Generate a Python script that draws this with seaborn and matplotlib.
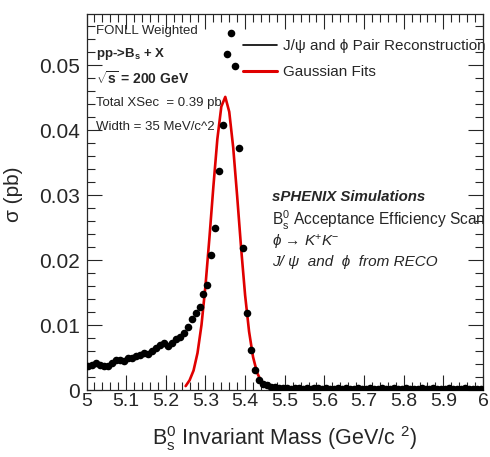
import numpy as np
import pandas as pd
import seaborn as sns
import matplotlib
matplotlib.use('Agg')
import matplotlib.pyplot as plt
from matplotlib.lines import Line2D
from matplotlib.ticker import MultipleLocator, FuncFormatter

# Bin centres of the B_s invariant mass histogram (GeV/c^2)
mass_bins = [round(5.005 + 0.01 * i, 3) for i in range(100)]

# Cross section per bin (pb)
sigma_pb = [
    0.0037, 0.0038, 0.0042, 0.0039, 0.0037, 0.0037, 0.0042, 0.0046, 0.0046, 0.0044,
    0.0049, 0.0050, 0.0052, 0.0054, 0.0057, 0.0055, 0.0060, 0.0064, 0.0069, 0.0073,
    0.0067, 0.0072, 0.0078, 0.0081, 0.0087, 0.0097, 0.0110, 0.0118, 0.0128, 0.0148,
    0.0162, 0.0207, 0.0249, 0.0337, 0.0408, 0.0517, 0.0550, 0.0499, 0.0372, 0.0218,
    0.0118, 0.0062, 0.0031, 0.0015, 0.0010, 0.0007, 0.0005, 0.0004, 0.0003, 0.0003,
    0.0003, 0.0002, 0.0003, 0.0003, 0.0002, 0.0003, 0.0002, 0.0003, 0.0003, 0.0002,
    0.0003, 0.0002, 0.0002, 0.0003, 0.0002, 0.0003, 0.0002, 0.0002, 0.0003, 0.0002,
    0.0002, 0.0003, 0.0002, 0.0002, 0.0003, 0.0002, 0.0002, 0.0003, 0.0002, 0.0002,
    0.0003, 0.0002, 0.0002, 0.0002, 0.0003, 0.0002, 0.0002, 0.0003, 0.0002, 0.0002,
    0.0002, 0.0003, 0.0002, 0.0002, 0.0002, 0.0003, 0.0002, 0.0002, 0.0002, 0.0002,
]

# Gaussian fit curve
fit_mass = [5.25, 5.26, 5.27, 5.28, 5.29, 5.30, 5.31, 5.32, 5.33, 5.34, 5.35,
            5.36, 5.37, 5.38, 5.39, 5.40, 5.41, 5.42, 5.43, 5.44, 5.45, 5.46,
            5.47, 5.48, 5.49]
fit_sigma = [0.0006, 0.0015, 0.0030, 0.0057, 0.0100, 0.0160, 0.0234, 0.0313,
             0.0386, 0.0436, 0.0451, 0.0428, 0.0373, 0.0298, 0.0218, 0.0146,
             0.0090, 0.0051, 0.0027, 0.0014, 0.0007, 0.0004, 0.0002, 0.0001,
             0.0000]

xticks = [5, 5.1, 5.2, 5.3, 5.4, 5.5, 5.6, 5.7, 5.8, 5.9, 6]
yticks = [0, 0.01, 0.02, 0.03, 0.04, 0.05]

hist_df = pd.DataFrame({'mass': mass_bins, 'sigma': sigma_pb})
fit_df = pd.DataFrame({'mass': fit_mass, 'sigma': fit_sigma})

sns.set_style('ticks')
plt.rcParams['font.family'] = ['Liberation Sans', 'DejaVu Sans']
plt.rcParams['mathtext.fontset'] = 'custom'
plt.rcParams['mathtext.rm'] = 'Liberation Sans'
plt.rcParams['mathtext.it'] = 'Liberation Sans:italic'
plt.rcParams['mathtext.bf'] = 'Liberation Sans:bold'
plt.rcParams['axes.linewidth'] = 0.9

W, H = 490, 457
fig = plt.figure(figsize=(W / 100, H / 100), dpi=100)
ax = fig.add_axes([86.5 / W, 1 - 390 / H, (483 - 86.5) / W, (390 - 14) / H])


def fpos(x, y):
    return x / W, 1 - y / H


sns.lineplot(data=fit_df, x='mass', y='sigma', ax=ax, color='#e00000',
             linewidth=1.9, zorder=2)
sns.scatterplot(data=hist_df, x='mass', y='sigma', ax=ax, color='black',
                s=30, linewidth=0, zorder=3)

ax.set_xlim(5, 6)
ax.set_ylim(0, 0.05785)
ax.set_xticks(xticks)
ax.set_yticks(yticks)
ax.xaxis.set_minor_locator(MultipleLocator(0.02))
ax.yaxis.set_minor_locator(MultipleLocator(0.002))
ax.xaxis.set_major_formatter(FuncFormatter(lambda v, p: '%g' % v))
ax.yaxis.set_major_formatter(FuncFormatter(lambda v, p: '0' if abs(v) < 1e-9 else '%.2f' % v))
ax.tick_params(which='both', direction='in', top=True, right=True, width=0.8)
ax.tick_params(which='major', length=11)
ax.tick_params(which='minor', length=5.5)
ax.tick_params(axis='x', labelsize=14, pad=2)
ax.tick_params(axis='y', labelsize=15, pad=5)

ax.set_xlabel(r'B$_\mathrm{s}^\mathrm{0}$ Invariant Mass (GeV/c $^\mathrm{2}$)', fontsize=15.5)
ax.set_ylabel(u'\u03c3 (pb)', fontsize=15)
ax.xaxis.set_label_coords(0.5, -0.09)
ax.yaxis.set_label_coords(-0.16, 0.52)

# legend (ROOT style, line entries)
handles = [Line2D([], [], color='black', linewidth=1.2),
           Line2D([], [], color='#e00000', linewidth=2.2)]
labels = [u'J/\u03c8 and \u03d5 Pair Reconstruction', 'Gaussian Fits']
ax.legend(handles, labels, loc='upper left', bbox_to_anchor=fpos(243, 39),
          bbox_transform=fig.transFigure, frameon=False, fontsize=11,
          handlelength=2.2, handletextpad=0.45, labelspacing=0.78,
          borderaxespad=0, borderpad=0)

# info text, top left
fig.text(*fpos(96, 31), 'FONLL Weighted', fontsize=9.5, va='center')
fig.text(*fpos(96, 54), r'pp->B$_\mathbf{s}$ + X', fontsize=9.5, va='center',
         fontweight='bold')
fig.text(*fpos(96, 79), r'$\sqrt{\mathbf{s}}$ = 200 GeV', fontsize=10, va='center',
         fontweight='bold')
fig.text(*fpos(96, 103), 'Total XSec  = 0.39 pb', fontsize=9.5, va='center')
fig.text(*fpos(96, 127), 'Width = 35 MeV/c^2', fontsize=9.5, va='center')

# sPHENIX labels
fig.text(*fpos(272, 197), 'sPHENIX Simulations', fontsize=10.8, va='center',
         fontweight='bold', style='italic')
fig.text(*fpos(272, 220), r'B$_\mathrm{s}^\mathrm{0}$ Acceptance Efficiency Scan',
         fontsize=11.2, va='center')
fig.text(*fpos(272, 242), u'\u03d5 \u2192 K$^{+}$K$^{-}$', fontsize=11,
         va='center', style='italic')
fig.text(*fpos(272, 262), u'J/ \u03c8  and  \u03d5  from RECO', fontsize=11,
         va='center', style='italic')

fig.savefig('out.png', dpi=100)
